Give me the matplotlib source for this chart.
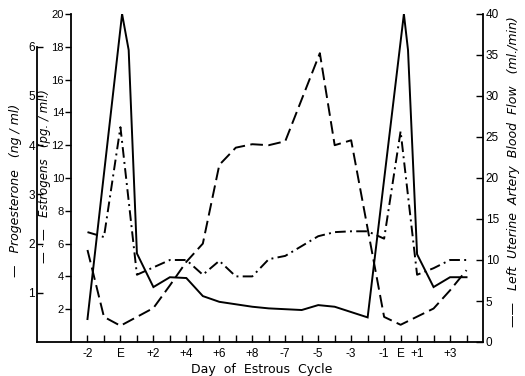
import numpy as np
import matplotlib
matplotlib.use('Agg')
import matplotlib.pyplot as plt

# x = position on the day axis (0 = day -2 of first cycle)
flow_x = [0, 2.1, 2.5, 3, 4, 5, 6, 7, 8, 9, 10, 11, 13, 14, 15, 17, 19.2, 19.45, 20, 21, 22, 23]
flow_y = [2.8, 40, 35.6, 10.8, 6.7, 7.9, 7.8, 5.6, 4.9, 4.6, 4.3, 4.1, 3.9, 4.5, 4.3, 3.0,
          40, 35.6, 10.7, 6.7, 7.9, 7.9]

prog_x = [0, 1, 2, 4, 5, 6, 7, 8, 9, 10, 11, 12, 14.1, 15, 16, 18, 19, 21, 22, 23]
prog_y = [1.87, 0.51, 0.33, 0.69, 1.15, 1.63, 2.0, 3.6, 3.95, 4.02, 4.0, 4.08, 5.87, 4.0, 4.1,
          0.51, 0.35, 0.68, 1.05, 1.46]

estr_x = [0, 1, 2, 3, 5, 6, 7, 8, 9, 10, 11, 12, 14, 15, 16, 17, 18, 19, 20, 21, 22, 23]
estr_y = [6.7, 6.4, 13.1, 4.1, 5.0, 5.0, 4.1, 4.95, 4.0, 4.0, 5.05, 5.25, 6.45, 6.7, 6.75, 6.75,
          6.3, 12.85, 4.1, 4.5, 5.0, 5.0]

day_ticks = list(range(24))
day_labels = {0: '-2', 2: 'E', 4: '+2', 6: '+4', 8: '+6', 10: '+8', 12: '-7', 14: '-5',
              16: '-3', 18: '-1', 19: 'E', 20: '+1', 22: '+3'}

W, H = 525, 376
fig = plt.figure(figsize=(W / 100, H / 100), dpi=100)
ax = fig.add_axes([71 / W, 1 - 342 / H, 412 / W, 328 / H])
ax.set_xlim(-1, 24)
ax.set_ylim(0, 20)

# right axis : blood flow
axr = ax.twinx()
axr.set_ylim(0, 40)

# far-left axis : progesterone
axp = ax.twinx()
axp.set_ylim(0, 328 / 49.2)
axp.yaxis.set_ticks_position('left')
axp.spines['left'].set_visible(True)
axp.spines['left'].set_position(('outward', 34 * 0.72))
axp.spines['left'].set_bounds(0, 6)

for a in (ax, axr, axp):
    a.spines['top'].set_visible(False)
    a.patch.set_visible(False)
ax.spines['right'].set_visible(False)
axp.spines['right'].set_visible(False)
axp.spines['bottom'].set_visible(False)
axr.spines['left'].set_visible(False)
axr.spines['bottom'].set_visible(False)

for a in (ax, axr, axp):
    for s in a.spines.values():
        s.set_linewidth(1.3)

# extend base line left to the progesterone axis
ax.plot([-34 / 412, 0], [0, 0], transform=ax.transAxes, clip_on=False, color='k', lw=1.3)

lw = 1.4
axr.plot(flow_x, flow_y, color='k', lw=lw, solid_joinstyle='miter')
axp.plot(prog_x, prog_y, color='k', lw=lw, dashes=(6.5, 2.8))
ax.plot(estr_x, estr_y, color='k', lw=lw, dashes=(5.5, 2.2, 1.0, 2.2))

fs = 8.5
tick_font = 'Liberation Sans'
ax.set_xticks(day_ticks)
ax.set_xticklabels([day_labels.get(i, '') for i in day_ticks])
ax.tick_params(axis='x', direction='in', length=5, width=1, pad=4, labelsize=fs,
               labelfontfamily=tick_font)

ax.set_yticks(range(2, 21, 2))
ax.tick_params(axis='y', direction='out', length=4, width=1, pad=1, labelsize=8,
               labelfontfamily=tick_font)

axr.set_yticks(range(0, 41, 5))
axr.tick_params(axis='y', direction='in', length=5, width=1, pad=2, labelsize=fs,
                labelfontfamily=tick_font)

axp.set_yticks(range(1, 7))
axp.tick_params(axis='y', direction='in', length=4, width=1, pad=1.5, labelsize=fs,
                labelfontfamily=tick_font, left=True, labelleft=True, right=False,
                labelright=False)

fig.text(262 / W, 1 - 369 / H, 'Day  of  Estrous  Cycle', ha='center', va='center', fontsize=9)
fig.text(16 / W, 1 - 190 / H, '—   Progesterone   (ng / ml)', rotation=90,
         ha='center', va='center', fontsize=9, style='italic')
fig.text(45 / W, 1 - 176 / H, '— · —   Estrogens   (pg. / ml.)', rotation=90,
         ha='center', va='center', fontsize=8.5, style='italic')
fig.text(513 / W, 1 - 172 / H, '——   Left  Uterine  Artery  Blood  Flow   (ml./min)', rotation=90,
         ha='center', va='center', fontsize=9, style='italic')

fig.savefig('out.png', dpi=100)
